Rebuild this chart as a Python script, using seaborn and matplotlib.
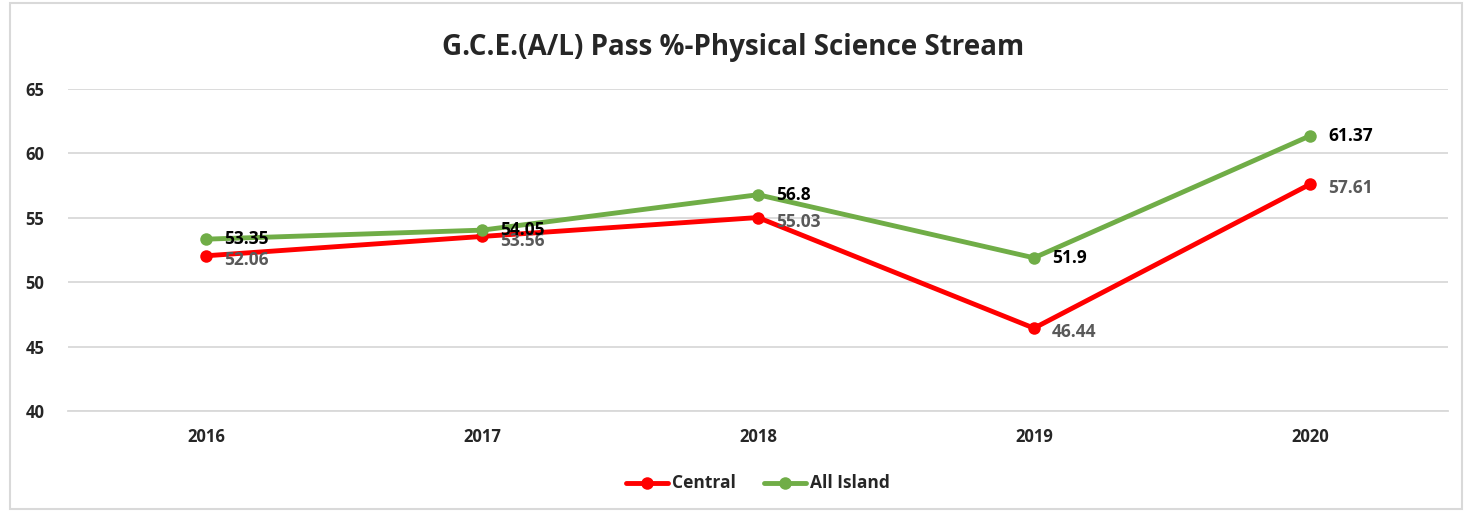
import pandas as pd
import seaborn as sns
import matplotlib.pyplot as plt
from matplotlib.patches import Rectangle

years = ['2016', '2017', '2018', '2019', '2020']
central = [52.06, 53.56, 55.03, 46.44, 57.61]
all_island = [53.35, 54.05, 56.8, 51.9, 61.37]

df = pd.DataFrame({'Year': years * 2,
                   'Pass': central + all_island,
                   'Region': ['Central'] * 5 + ['All Island'] * 5})

sns.set_style('white')
plt.rcParams['font.family'] = ['Open Sans', 'DejaVu Sans']

fig = plt.figure(figsize=(14.66, 5.12), dpi=100)
ax = fig.add_axes([0.0464, 0.197, 0.9413, 0.629])

sns.lineplot(data=df, x='Year', y='Pass', hue='Region', sort=False,
             palette={'Central': '#ff0000', 'All Island': '#70ad47'},
             marker='o', markersize=9, markeredgewidth=0, linewidth=3.5, ax=ax)

ax.set_xlim(-0.5, 4.5)
ax.set_ylim(40, 65)
ax.set_yticks([40, 45, 50, 55, 60, 65])
ax.grid(axis='y', color='#d9d9d9', linewidth=1.3)
ax.set_axisbelow(True)
for s in ax.spines.values():
    s.set_visible(False)
ax.spines['bottom'].set_visible(True)
ax.spines['bottom'].set_color('#d9d9d9')
ax.spines['bottom'].set_linewidth(1.3)
ax.tick_params(axis='y', length=0, pad=17)
ax.tick_params(axis='x', length=0, pad=12)
plt.setp(ax.get_xticklabels() + ax.get_yticklabels(), fontsize=12, fontweight='bold')
ax.set_xlabel('')
ax.set_ylabel('')

for i, v in enumerate(central):
    ax.annotate(f'{v:g}', (i, v), xytext=(13, -3), textcoords='offset points',
                fontsize=12.5, fontweight='bold', color='#595959', va='center')
for i, v in enumerate(all_island):
    ax.annotate(f'{v:g}', (i, v), xytext=(13, 0), textcoords='offset points',
                fontsize=12.5, fontweight='bold', color='black', va='center')

fig.suptitle('G.C.E.(A/L) Pass %-Physical Science Stream', y=0.908, va='center',
             fontsize=20, fontweight='bold')

leg = ax.legend(loc='center', bbox_to_anchor=(0.5, -0.224), ncol=2,
                frameon=False, handlelength=3, columnspacing=2.0,
                handletextpad=0.3)
for t in leg.get_texts():
    t.set_fontweight('bold')
    t.set_fontsize(12.5)

fig.patches.append(Rectangle((0.007, 0.005), 0.99, 0.99, transform=fig.transFigure,
                             fill=False, edgecolor='#d9d9d9', linewidth=1.5))

fig.savefig('out.png', dpi=100)
